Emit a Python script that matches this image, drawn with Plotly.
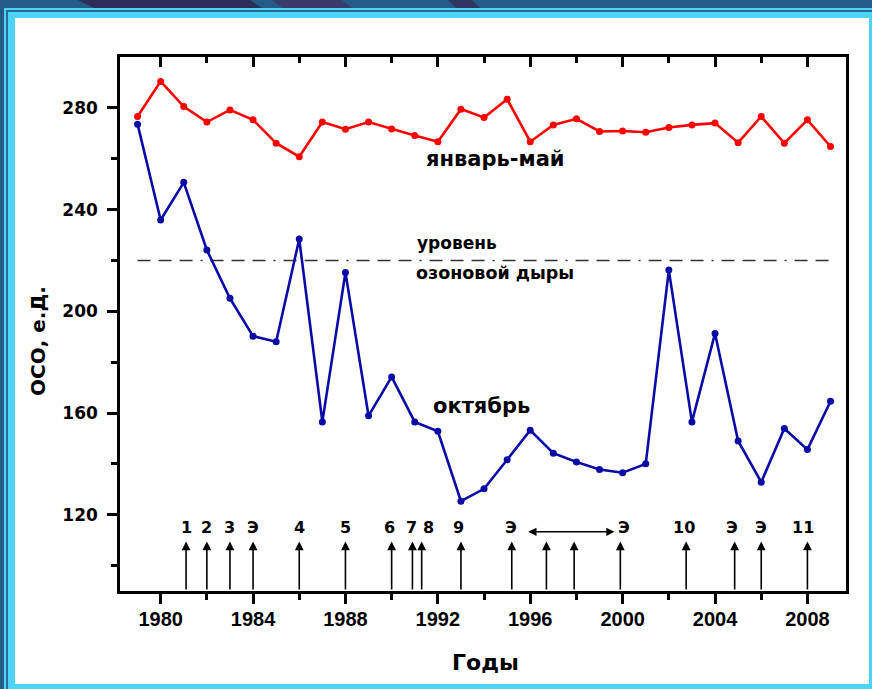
import plotly.graph_objects as go

# Total ozone (OCO, Dobson units) over the station, 1979-2009
years = list(range(1979, 2010))
jan_may = [276.6, 290.4, 280.5, 274.4, 279.2, 275.3, 266.1, 260.8, 274.4, 271.6,
           274.4, 271.7, 269.1, 266.7, 279.5, 276.2, 283.4, 266.7, 273.3, 275.7,
           270.7, 270.9, 270.4, 272.3, 273.3, 274.0, 266.3, 276.6, 266.1, 275.3,
           264.8]
october = [273.6, 235.9, 250.7, 224.1, 205.1, 190.2, 188.0, 228.4, 156.5, 215.3,
           158.9, 174.2, 156.5, 152.8, 125.3, 130.2, 141.6, 153.2, 144.2, 140.7,
           137.8, 136.5, 140.0, 216.2, 156.5, 191.3, 149.0, 132.8, 153.9, 145.6,
           164.6]

# Ozone hole threshold
hole_level = 220
hole_span = [1979, 2009]

# Events marked by arrows along the time axis
event_years = [1981.1, 1982.0, 1983.0, 1984.0, 1986.0, 1988.0, 1990.0, 1990.9,
               1991.3, 1993.0, 1995.2, 1996.7, 1997.9, 1999.9, 2002.75, 2004.85,
               2006.0, 2008.0]
label_years = [1981.1, 1982.0, 1983.0, 1984.0, 1986.0, 1988.0, 1989.9, 1990.85,
               1991.6, 1992.9, 1995.15, 2000.05, 2002.65, 2004.75, 2006.0, 2007.8]
label_texts = ["1", "2", "3", "Э", "4", "5", "6", "7", "8", "9", "Э", "Э",
               "10", "Э", "Э", "11"]
period_span = [1995.85, 1999.65]

x_range = [1978.24, 2009.67]
y_range = [90, 300]

W, H = 872, 689
ML, MR, MT, MB = 120, 26, 57, 98
PW, PH = W - ML - MR, H - MT - MB


def px(xp):
    return (xp - ML) / PW


def py(yp):
    return (H - MB - yp) / PH


fig = go.Figure()

fig.add_trace(go.Scatter(
    x=hole_span, y=[hole_level, hole_level], mode="lines",
    line=dict(color="#333333", width=1.4,
              dash="13px,8px,13px,8px,13px,8px,2px,8px"),
    hoverinfo="skip", showlegend=False))

fig.add_trace(go.Scatter(
    x=years, y=jan_may, mode="lines+markers",
    line=dict(color="#ff0000", width=2.6),
    marker=dict(color="#ff0000", size=7),
    showlegend=False))

fig.add_trace(go.Scatter(
    x=years, y=october, mode="lines+markers",
    line=dict(color="#0a0aa6", width=2.6),
    marker=dict(color="#0a0aa6", size=7),
    showlegend=False))

annotations = []
arrow_base = y_range[0]
arrow_tip = 109.5
for ey in event_years:
    annotations.append(dict(
        x=ey, y=arrow_tip, ax=ey, ay=arrow_base, xref="x", yref="y",
        axref="x", ayref="y", text="", showarrow=True, arrowhead=2,
        arrowsize=1.1, arrowwidth=1.6, arrowcolor="black"))

for ly, lt in zip(label_years, label_texts):
    annotations.append(dict(
        x=ly, y=115.0, xref="x", yref="y", text=lt, showarrow=False,
        font=dict(family="DejaVu Sans", size=16, color="black", weight="bold"),
        xanchor="center", yanchor="middle"))

annotations.append(dict(
    x=period_span[1], y=113.3, ax=period_span[0], ay=113.3, xref="x", yref="y",
    axref="x", ayref="y", text="", showarrow=True, arrowhead=2,
    arrowside="end+start", arrowsize=1.1, arrowwidth=1.5, arrowcolor="black"))

series_font = dict(family="DejaVu Sans", color="black", weight="bold")
annotations += [
    dict(x=1994.48, y=259.9, xref="x", yref="y", text="январь-май",
         showarrow=False, font=dict(size=21, **series_font),
         xanchor="center", yanchor="middle"),
    dict(x=1993.87, y=162.7, xref="x", yref="y", text="октябрь",
         showarrow=False, font=dict(size=21, **series_font),
         xanchor="center", yanchor="middle"),
    dict(x=1992.83, y=226.9, xref="x", yref="y", text="уровень",
         showarrow=False, font=dict(size=17, **series_font),
         xanchor="center", yanchor="middle"),
    dict(x=1994.48, y=215.0, xref="x", yref="y", text="озоновой дыры",
         showarrow=False, font=dict(size=17.5, **series_font),
         xanchor="center", yanchor="middle"),
    dict(x=px(38), y=py(341), xref="paper", yref="paper", text="ОСО, е.Д.",
         textangle=-90, showarrow=False, font=dict(size=20, **series_font),
         xanchor="center", yanchor="middle"),
    dict(x=px(485), y=py(663), xref="paper", yref="paper", text="Годы",
         showarrow=False, font=dict(size=22, **series_font),
         xanchor="center", yanchor="middle"),
]

# Slide frame around the chart
dark = "#245c88"
cyan = "#4dd3f7"
shapes = []


def rect(x0, y0, x1, y1, color):
    shapes.append(dict(type="rect", xref="paper", yref="paper",
                       x0=px(x0), x1=px(x1), y0=py(y0), y1=py(y1),
                       fillcolor=color, line=dict(width=0), layer="above"))


def poly(pts, color):
    path = "M " + " L ".join(f"{px(a)},{py(b)}" for a, b in pts) + " Z"
    shapes.append(dict(type="path", xref="paper", yref="paper", path=path,
                       fillcolor=color, line=dict(width=0), layer="above"))


rect(0, 0, W, 8, dark)
rect(0, 0, 4, H, dark)
poly([(78, 0), (250, 0), (262, 8), (94, 8)], "#2b2e58")
poly([(272, 0), (342, 0), (352, 8), (282, 8)], "#393c6b")
poly([(448, 0), (472, 0), (480, 8), (456, 8)], "#2f3360")
rect(4, 8, W, 18, cyan)
rect(4, 8, 15, H, cyan)
rect(6, 10, W, 12, "#2a6a98")
rect(6, 10, 8, H, "#2a6a98")
rect(869, 18, W, H, cyan)
rect(15, 684, W, H, cyan)

fig.update_layout(
    width=W, height=H,
    margin=dict(l=ML, r=MR, t=MT, b=MB),
    paper_bgcolor="white", plot_bgcolor="white",
    annotations=annotations, shapes=shapes,
    xaxis=dict(
        range=x_range, tickmode="linear", tick0=1980, dtick=4,
        ticks="outside", ticklen=10, tickwidth=2.5, tickcolor="black",
        minor=dict(tickmode="linear", tick0=1978, dtick=2, ticks="outside",
                   ticklen=6, tickwidth=2.5, tickcolor="black"),
        showline=True, linewidth=2.5, linecolor="black", mirror=True,
        showgrid=False, zeroline=False,
        tickfont=dict(family="Liberation Sans", size=20, color="black",
                      weight="bold"),
        ticklabelstandoff=-2),
    xaxis2=dict(
        range=x_range, overlaying="x", side="top", tickmode="linear",
        tick0=1980, dtick=4, ticks="inside", ticklen=10, tickwidth=2.5,
        tickcolor="black",
        minor=dict(tickmode="linear", tick0=1978, dtick=2, ticks="inside",
                   ticklen=6, tickwidth=2.5, tickcolor="black"),
        showticklabels=False, showline=False, showgrid=False, zeroline=False),
    yaxis=dict(
        range=y_range, tickmode="array", tickvals=[120, 160, 200, 240, 280],
        ticks="outside", ticklen=10, tickwidth=2.5, tickcolor="black",
        minor=dict(tickmode="array", tickvals=[100, 140, 180, 220, 260],
                   ticks="outside", ticklen=6, tickwidth=2.5,
                   tickcolor="black"),
        showline=True, linewidth=2.5, linecolor="black", mirror=True,
        showgrid=False, zeroline=False,
        tickfont=dict(family="DejaVu Sans", size=17, color="black",
                      weight="bold"),
        ticklabelstandoff=6),
)

# Invisible trace so the top axis carries its ticks
fig.add_trace(go.Scatter(x=[x_range[0]], y=[y_range[0]], xaxis="x2",
                         mode="markers", marker=dict(opacity=0),
                         hoverinfo="skip", showlegend=False))

fig.write_html("out.html")
